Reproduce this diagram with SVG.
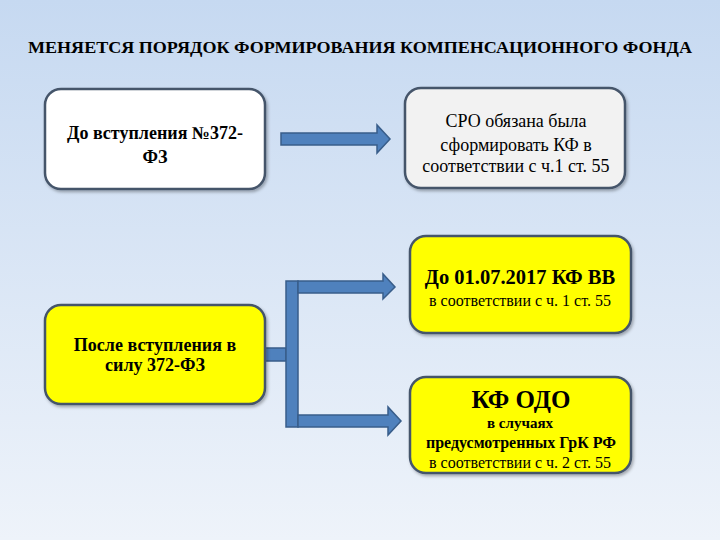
<svg xmlns="http://www.w3.org/2000/svg" width="720" height="540" viewBox="0 0 720 540">
<defs>
<linearGradient id="bg" x1="0" y1="0" x2="0" y2="1">
<stop offset="0" stop-color="#c6d9f1"/>
<stop offset="1" stop-color="#eef3fa"/>
</linearGradient>
<filter id="sh" x="-10%" y="-10%" width="125%" height="130%">
<feDropShadow dx="1.5" dy="2" stdDeviation="1.5" flood-color="#000" flood-opacity="0.3"/>
</filter>
</defs>
<style>
.box{stroke:#44546a;stroke-width:2.5;filter:url(#sh)}
.white{fill:#ffffff}
.grey{fill:#f2f2f2}
.yellow{fill:#ffff00}
.arr{fill:#4f81bd;stroke:#385d8a;stroke-width:1.5;stroke-linejoin:miter}
text{font-family:"Liberation Serif","Times New Roman",serif;fill:#000;text-anchor:middle}
.b{font-weight:bold}
</style>
<rect width="720" height="540" fill="url(#bg)"/>
<text x="360" y="53" class="b" font-size="17" textLength="664" lengthAdjust="spacingAndGlyphs">МЕНЯЕТСЯ ПОРЯДОК ФОРМИРОВАНИЯ КОМПЕНСАЦИОННОГО ФОНДА</text>
<g id="connectors">
<polygon class="arr" points="281,133 377,133 377,125 390,139 377,153 377,145 281,145"/>
<rect class="arr" x="263" y="348" width="23" height="13"/>
<rect class="arr" x="286" y="281" width="12" height="146"/>
<polygon class="arr" points="298,281 383,281 383,274 395,287 383,299 383,293 298,293"/>
<polygon class="arr" points="298,415 388,415 388,407 401,421 388,435 388,427 298,427"/>
</g>
<g id="node-before">
<rect class="box white" x="45" y="89" width="220" height="100" rx="16"/>
<text class="b" font-size="18" x="155" y="139">До вступления №372-</text>
<text class="b" font-size="18" x="155" y="163">ФЗ</text>
</g>
<g id="node-sro">
<rect class="box grey" x="405" y="88" width="220" height="100" rx="16"/>
<text font-size="18" x="516" y="127">СРО обязана была</text>
<text font-size="18" x="516" y="151">сформировать КФ в</text>
<text font-size="18" x="516" y="172">соответствии с ч.1 ст. 55</text>
</g>
<g id="node-after">
<rect class="box yellow" x="45" y="305" width="220" height="99" rx="16"/>
<text class="b" font-size="18" x="155" y="351">После вступления в</text>
<text class="b" font-size="18" x="155" y="371">силу 372-ФЗ</text>
</g>
<g id="node-vv">
<rect class="box yellow" x="410" y="236" width="221" height="97" rx="16"/>
<text class="b" font-size="20.5" x="520" y="284">До 01.07.2017 КФ ВВ</text>
<text font-size="16" x="520" y="306">в соответствии с ч. 1 ст. 55</text>
</g>
<g id="node-odo">
<rect class="box yellow" x="410" y="377" width="221" height="96" rx="16"/>
<text class="b" font-size="25" x="521" y="408">КФ ОДО</text>
<text class="b" font-size="15" x="520" y="428">в случаях</text>
<text class="b" font-size="16" x="521" y="448">предусмотренных ГрК РФ</text>
<text font-size="16" x="520" y="468">в соответствии с ч. 2 ст. 55</text>
</g>
</svg>
